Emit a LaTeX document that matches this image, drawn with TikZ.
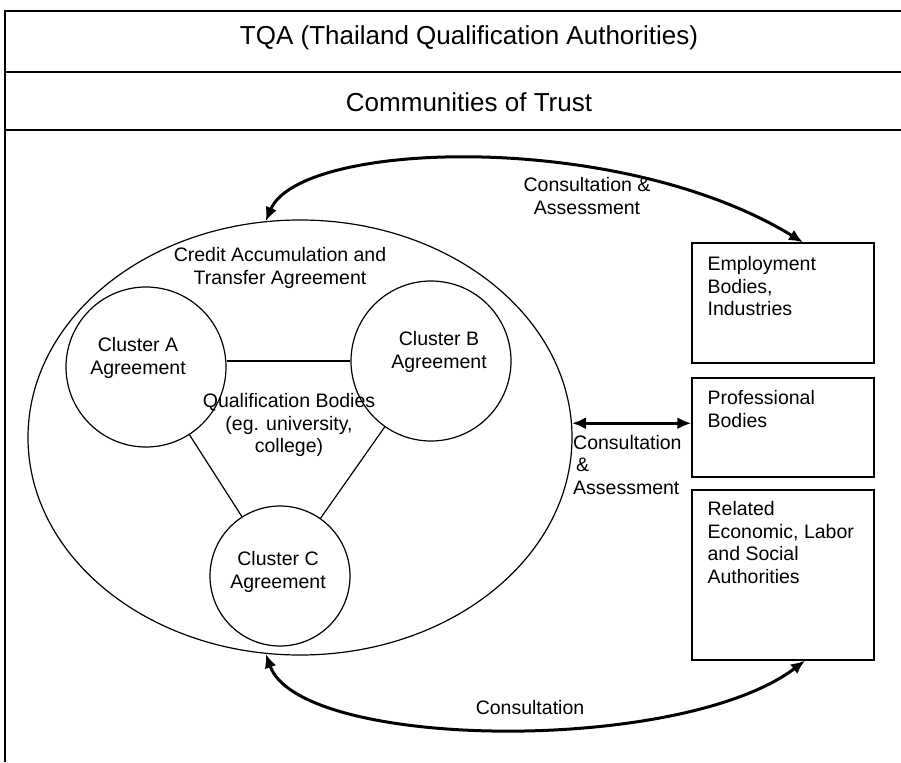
\documentclass[tikz,border=0pt]{standalone}
\usepackage{fontspec}
\setmainfont{Liberation Sans}
\usetikzlibrary{shapes.geometric,arrows.meta}

\begin{document}
\begin{tikzpicture}[x=1pt,y=-1pt]
            \tikzstyle{cluster}=[circle,draw=black,line width=1.2pt,inner sep=0pt]
            \tikzstyle{party}=[rectangle,draw=black,line width=1.2pt,minimum width=182pt,inner sep=0pt]
            \tikzstyle{txt}=[align=center,inner sep=0pt,font=\fontsize{19.5}{22.5}\selectfont]
            \tikzstyle{ltxt}=[align=left,anchor=north west,inner sep=0pt,font=\fontsize{19.5}{22.5}\selectfont]
            \tikzstyle{head}=[inner sep=0pt,font=\fontsize{26}{30}\selectfont]
            \tikzstyle{band}=[line width=1.8pt]
            \tikzstyle{biarrow}=[line width=3pt,{Latex[length=14pt,width=12pt]}-{Latex[length=14pt,width=12pt]}]

            \useasboundingbox (0,0) rectangle (901,762);

            % top bands
            \draw[band] (901,11) -- (5,11) -- (5,762);
            \draw[band] (5,72) -- (901,72);
            \draw[band] (5,130) -- (901,130);
                    \node[head] (tqa) at (469,38) {TQA (Thailand Qualification Authorities)};
                    \node[head] (trust) at (469,102) {Communities of Trust};

            % credit agreement with its clusters
                    \node[ellipse,draw=black,line width=1.2pt,minimum width=544pt,minimum height=435pt,inner sep=0pt] (cata) at (300,437.5) {};
                    \node[txt] (cata-txt) at (280,268) {Credit Accumulation and\\Transfer Agreement};
                    \node[cluster,minimum size=160pt] (A) at (146,367) {};
                    \node[cluster,minimum size=160pt] (B) at (431,361) {};
                    \node[cluster,minimum size=140pt] (C) at (280,576) {};
                    \node[txt] (A-txt) at (138,358) {Cluster A\\Agreement};
                    \node[txt] (B-txt) at (439,352) {Cluster B\\Agreement};
                    \node[txt] (C-txt) at (278,572) {Cluster C\\Agreement};
                    \node[txt] (qb) at (289,425) {Qualification Bodies\\(eg. university,\\college)};

                \draw[line width=1.2pt] (B.west) -- (B.west -| A.east);
                \foreach \from/\to in {A/C, B/C}
                    \draw[line width=1.2pt] (\from) -- (\to);

            % outside parties
                    \node[party,minimum height=120pt] (emp) at (783,303) {};
                    \node[party,minimum height=99pt] (prof) at (783,427.5) {};
                    \node[party,minimum height=170pt] (rel) at (783,575) {};
                    \node[ltxt] (emp-txt) at ([shift={(16pt,-14pt)}]emp.north west) {Employment\\Bodies,\\Industries};
                    \node[ltxt] (prof-txt) at ([shift={(16pt,-13pt)}]prof.north west) {Professional\\Bodies};
                    \node[ltxt] (rel-txt) at ([shift={(16pt,-12pt)}]rel.north west) {Related\\Economic, Labor\\and Social\\Authorities};

            % consultation links
                \draw[biarrow] (cata.99) .. controls (300,140) and (620,130) .. ([xshift=20pt]emp.north);
                \draw[biarrow] (cata.3) -- (cata.3 -| prof.west);
                \draw[biarrow] (cata.261) .. controls (300,750) and (680,755) .. ([xshift=22pt]rel.south);
                    \node[txt] (top-lbl) at (587,196) {Consultation \&\\Assessment};
                    \node[ltxt] (mid-lbl) at (573,435) {Consultation\\\hspace{3pt}\&\\Assessment};
                    \node[txt] (bot-lbl) at (530,708) {Consultation};
\end{tikzpicture}
\end{document}
